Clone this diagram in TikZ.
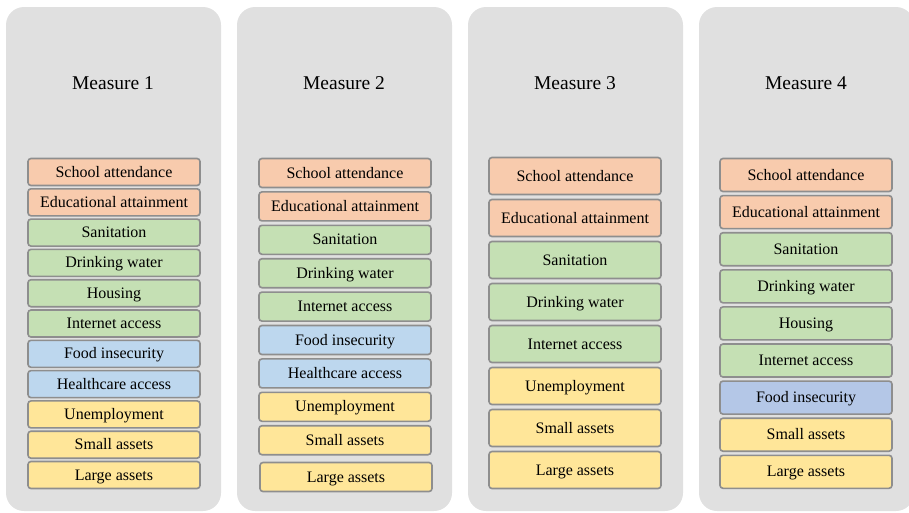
\documentclass[tikz,border=0pt]{standalone}
\usepackage{fontspec}
\setmainfont{Liberation Serif}
\newfontfamily\labelfont{Liberation Serif}
\usetikzlibrary{positioning}

\definecolor{panelgray}{HTML}{E0E0E0}
\definecolor{edgegray}{HTML}{8E8E8E}
\definecolor{eduorange}{HTML}{F8CBAD}
\definecolor{livgreen}{HTML}{C5E0B4}
\definecolor{hlthblue}{HTML}{BDD7EE}
\definecolor{foodblue}{HTML}{B4C7E7}
\definecolor{ecoyellow}{HTML}{FFE699}

\tikzset{
  panel/.style={fill=panelgray, rounded corners=18pt},
  title/.style={font=\labelfont\fontsize{19.5}{22}\selectfont},
  item/.style={draw=edgegray, line width=1.6pt, rounded corners=3pt,
    minimum width=172pt, inner sep=0pt, text height=12pt, text depth=2pt,
    font=\labelfont\fontsize{16}{18}\selectfont}
}

\begin{document}
\begin{tikzpicture}[x=1pt,y=-1pt]
\useasboundingbox (0,0) rectangle (909,512);
\clip (0,0) rectangle (909,512);

% background panels
\fill[panel](6,7) rectangle (221,511);
\fill[panel](237,7) rectangle (452,511);
\fill[panel](468,7) rectangle (683,511);
\fill[panel](699,7) rectangle (914,511);

\node[title] (t1) at (113,83) {Measure 1};
\node[title] (t2) at (344,83) {Measure 2};
\node[title] (t3) at (575,83) {Measure 3};
\node[title] (t4) at (806,83) {Measure 4};

% measure 1
\foreach \txt/\col [count=\i from 0] in {School attendance/eduorange,
  Educational attainment/eduorange, Sanitation/livgreen,
  Drinking water/livgreen, Housing/livgreen, Internet access/livgreen,
  Food insecurity/hlthblue, Healthcare access/hlthblue,
  Unemployment/ecoyellow, Small assets/ecoyellow, Large assets/ecoyellow}
  \node[item, fill=\col, minimum height=27pt] (a\i) at (114,172+30.3*\i) {\txt};

% measure 2
\foreach \txt/\col [count=\i from 0] in {School attendance/eduorange,
  Educational attainment/eduorange, Sanitation/livgreen,
  Drinking water/livgreen, Internet access/livgreen,
  Food insecurity/hlthblue, Healthcare access/hlthblue,
  Unemployment/ecoyellow, Small assets/ecoyellow}
  \node[item, fill=\col, minimum height=29pt] (b\i) at (345,173+33.4*\i) {\txt};
\node[item, fill=ecoyellow, minimum height=29pt] (b9) at (346,477) {Large assets};

% measure 3
\foreach \txt/\col [count=\i from 0] in {School attendance/eduorange,
  Educational attainment/eduorange, Sanitation/livgreen,
  Drinking water/livgreen, Internet access/livgreen,
  Unemployment/ecoyellow, Small assets/ecoyellow, Large assets/ecoyellow}
  \node[item, fill=\col, minimum height=37pt] (c\i) at (575,176+42*\i) {\txt};

% measure 4
\foreach \txt/\col [count=\i from 0] in {School attendance/eduorange,
  Educational attainment/eduorange, Sanitation/livgreen,
  Drinking water/livgreen, Housing/livgreen, Internet access/livgreen,
  Food insecurity/foodblue, Small assets/ecoyellow, Large assets/ecoyellow}
  \node[item, fill=\col, minimum height=33pt] (d\i) at (806,175+37.1*\i) {\txt};
\end{tikzpicture}
\end{document}
